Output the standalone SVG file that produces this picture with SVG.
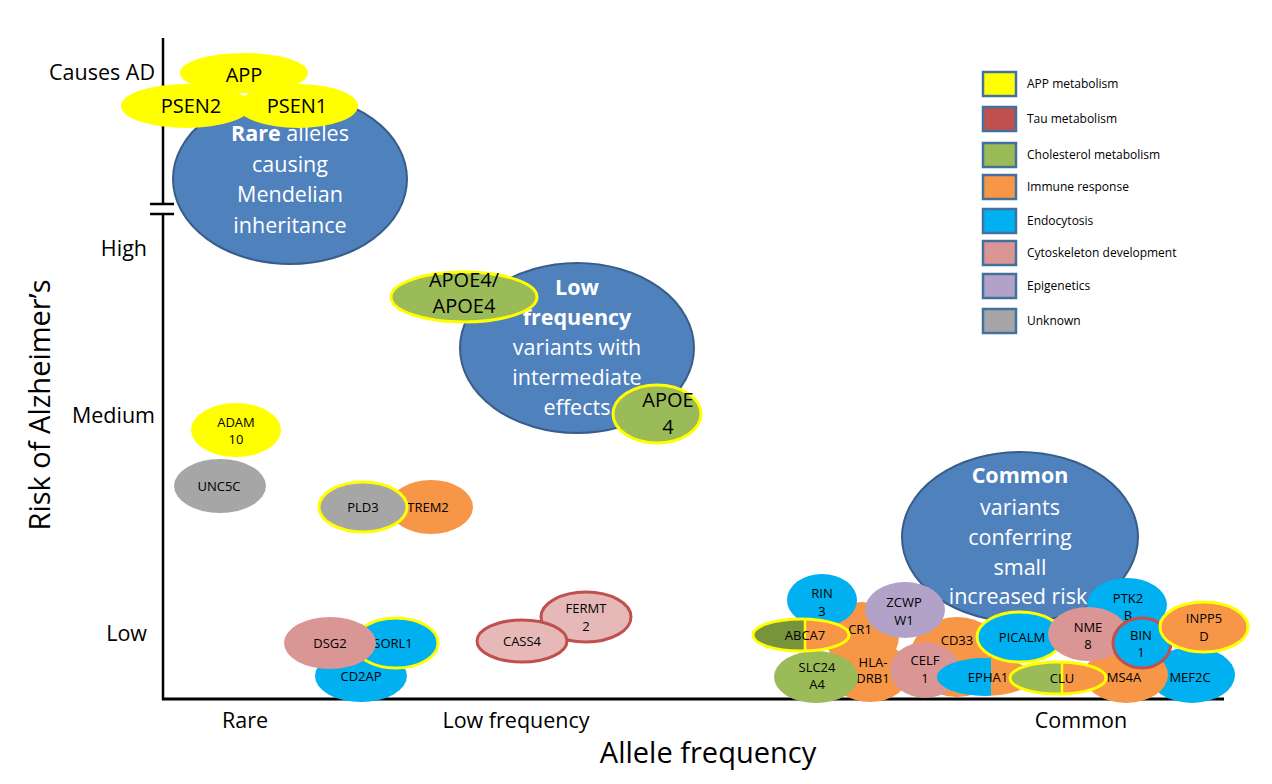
<svg xmlns="http://www.w3.org/2000/svg" width="1272" height="784" viewBox="0 0 1272 784">
<style>
text{font-family:"Open Sans","Noto Sans",sans-serif;fill:#000;text-anchor:middle}
.big{fill:#4F81BD;stroke:#385D8A;stroke-width:2}
.bt{fill:#fff;font-size:21.5px}
.lbl{font-size:21.5px}
.ax{font-size:29px}
.s{font-size:13px}
.m{font-size:20px}
.yel{fill:#FFFF00}
.grn{fill:#9BBB59}
.org{fill:#F79646}
.blu{fill:#00B0F0}
.pnk{fill:#D99694}
.pur{fill:#B3A2C7}
.gry{fill:#A6A6A6}
.yo{stroke:#FFFF00;stroke-width:3}
.ro{stroke:#C0504D;stroke-width:3}
.lg rect{stroke:#41719C;stroke-width:2.5}
.lg text{font-size:12px;text-anchor:start}
</style>
<defs>
<clipPath id="cABCL"><rect x="700" y="600" width="105" height="60"/></clipPath>
<clipPath id="cABCR"><rect x="805" y="600" width="60" height="60"/></clipPath>
<clipPath id="cEPL"><rect x="930" y="650" width="61" height="60"/></clipPath>
<clipPath id="cEPR"><rect x="991" y="650" width="60" height="60"/></clipPath>
<clipPath id="cCLL"><rect x="1000" y="655" width="62" height="50"/></clipPath>
<clipPath id="cCLR"><rect x="1062" y="655" width="60" height="50"/></clipPath>
</defs>
<rect width="1272" height="784" fill="#fff"/>

<g id="axes" stroke="#000" fill="none">
<line x1="163" y1="38" x2="163" y2="204" stroke-width="2.5"/>
<line x1="163" y1="214" x2="163" y2="700" stroke-width="2.5"/>
<line x1="150" y1="204" x2="174" y2="204" stroke-width="2.5"/>
<line x1="150" y1="214" x2="174" y2="214" stroke-width="2.5"/>
<line x1="162" y1="699" x2="1224" y2="699" stroke-width="3"/>
</g>
<g id="axis-labels">
<text class="lbl" x="155" y="80" style="text-anchor:end">Causes AD</text>
<text class="lbl" x="147" y="256" style="text-anchor:end">High</text>
<text class="lbl" x="155" y="423" style="text-anchor:end">Medium</text>
<text class="lbl" x="147" y="641" style="text-anchor:end">Low</text>
<text class="lbl" x="245" y="728">Rare</text>
<text class="lbl" x="516" y="728">Low frequency</text>
<text class="lbl" x="1081" y="728">Common</text>
<text class="ax" x="708" y="763">Allele frequency</text>
<text class="ax" transform="translate(50,405) rotate(-90)">Risk of Alzheimer’s</text>
</g>

<g id="rare-group">
<ellipse class="big" cx="290" cy="179" rx="117" ry="85"/>
<text class="bt" x="290" y="141"><tspan font-weight="bold">Rare</tspan> alleles</text>
<text class="bt" x="290" y="172">causing</text>
<text class="bt" x="290" y="202">Mendelian</text>
<text class="bt" x="290" y="233">inheritance</text>
</g>
<g id="APP"><ellipse class="yel" cx="244" cy="73" rx="64" ry="20"/><text class="m" x="244" y="82">APP</text></g>
<g id="PSEN1"><ellipse class="yel" cx="298" cy="106" rx="60" ry="22"/><text class="m" x="297" y="113">PSEN1</text></g>
<g id="PSEN2"><ellipse class="yel" cx="186" cy="106" rx="65" ry="22"/><text class="m" x="191" y="113">PSEN2</text></g>

<g id="lowfreq-group">
<ellipse class="big" cx="577" cy="348" rx="117" ry="85"/>
<text class="bt" x="577" y="295" font-weight="bold">Low</text>
<text class="bt" x="577" y="325" font-weight="bold">frequency</text>
<text class="bt" x="577" y="355">variants with</text>
<text class="bt" x="577" y="385">intermediate</text>
<text class="bt" x="577" y="415">effects</text>
</g>
<g id="APOE4-APOE4"><ellipse class="grn yo" cx="464" cy="297" rx="73" ry="25"/><text class="m" x="464" y="287">APOE4/</text><text class="m" x="464" y="313">APOE4</text></g>
<g id="APOE4"><ellipse class="grn yo" cx="657" cy="414" rx="44" ry="29"/><text class="m" x="668" y="407">APOE</text><text class="m" x="668" y="434">4</text></g>

<g id="ADAM10"><ellipse class="yel" cx="236" cy="430" rx="45" ry="27"/><text class="s" x="236" y="427">ADAM</text><text class="s" x="236" y="444">10</text></g>
<g id="UNC5C"><ellipse class="gry" cx="220" cy="486" rx="46" ry="27"/><text class="s" x="219" y="491">UNC5C</text></g>
<g id="TREM2"><ellipse class="org" cx="431" cy="507" rx="42" ry="27"/><text class="s" x="428" y="512">TREM2</text></g>
<g id="PLD3"><ellipse class="gry yo" cx="363" cy="507" rx="44" ry="25"/><text class="s" x="363" y="512">PLD3</text></g>

<g id="CD2AP"><ellipse class="blu" cx="361" cy="676" rx="46" ry="26"/><text class="s" x="361" y="681">CD2AP</text></g>
<g id="SORL1"><ellipse class="blu yo" cx="396" cy="643" rx="42" ry="25"/><text class="s" x="393" y="648">SORL1</text></g>
<g id="DSG2"><ellipse class="pnk" cx="330" cy="643" rx="46" ry="26"/><text class="s" x="330" y="648">DSG2</text></g>
<g id="FERMT2"><ellipse fill="#E6B9B8" stroke="#C0504D" stroke-width="3" cx="586" cy="617" rx="45" ry="25"/><text class="s" x="586" y="613">FERMT</text><text class="s" x="586" y="631">2</text></g>
<g id="CASS4"><ellipse fill="#E6B9B8" stroke="#C0504D" stroke-width="3" cx="522" cy="641" rx="45" ry="21"/><text class="s" x="522" y="646">CASS4</text></g>

<g id="common-group">
<ellipse class="big" cx="1020" cy="537" rx="118" ry="85"/>
<text class="bt" x="1020" y="483" font-weight="bold">Common</text>
<text class="bt" x="1020" y="515">variants</text>
<text class="bt" x="1020" y="545">conferring</text>
<text class="bt" x="1020" y="575">small</text>
<text class="bt" x="1018" y="604">increased risk</text>
</g>
<g id="CD33"><ellipse class="org" cx="957" cy="657" rx="47" ry="40"/><text class="s" x="957" y="645">CD33</text></g>
<g id="CR1"><ellipse class="org" cx="862" cy="636" rx="37" ry="34"/><text class="s" x="860" y="634">CR1</text></g>
<g id="HLA-DRB1"><ellipse class="org" cx="870" cy="672" rx="40" ry="30"/><text class="s" x="873" y="667">HLA-</text><text class="s" x="873" y="683">DRB1</text></g>
<g id="RIN3"><ellipse class="blu" cx="822" cy="600" rx="35" ry="26"/><text class="s" x="822" y="598">RIN</text><text class="s" x="822" y="616">3</text></g>
<g id="ZCWPW1"><ellipse class="pur" cx="905" cy="610" rx="40" ry="28"/><text class="s" x="904" y="607">ZCWP</text><text class="s" x="904" y="625">W1</text></g>
<g id="SLC24A4"><ellipse class="grn" cx="816" cy="677" rx="42" ry="26"/><text class="s" x="817" y="672">SLC24</text><text class="s" x="817" y="689">A4</text></g>
<g id="ABCA7">
<ellipse fill="#77933C" clip-path="url(#cABCL)" cx="801" cy="635" rx="48" ry="16"/>
<ellipse class="org" clip-path="url(#cABCR)" cx="801" cy="635" rx="48" ry="16"/>
<ellipse fill="none" class="yo" cx="801" cy="635" rx="48" ry="16"/>
<line x1="805" y1="619" x2="805" y2="651" stroke="#FFFF00" stroke-width="2.5"/>
<text class="s" x="805" y="640">ABCA7</text></g>
<g id="CELF1"><ellipse class="pnk" cx="925" cy="670" rx="35" ry="28"/><text class="s" x="925" y="665">CELF</text><text class="s" x="925" y="683">1</text></g>
<g id="EPHA1">
<ellipse class="blu" clip-path="url(#cEPL)" cx="985" cy="677" rx="48" ry="19"/>
<ellipse class="org" clip-path="url(#cEPR)" cx="985" cy="677" rx="48" ry="19"/>
<text class="s" x="988" y="682">EPHA1</text></g>
<g id="PICALM"><ellipse class="blu yo" cx="1020" cy="637" rx="43" ry="25"/><text class="s" x="1022" y="642">PICALM</text></g>
<g id="MEF2C"><ellipse class="blu" cx="1192" cy="675" rx="43" ry="28"/><text class="s" x="1190" y="682">MEF2C</text></g>
<g id="MS4A"><ellipse class="org" cx="1126" cy="675" rx="42" ry="28"/><text class="s" x="1124" y="682">MS4A</text></g>
<g id="PTK2B"><ellipse class="blu" cx="1127" cy="605" rx="40" ry="27"/><text class="s" x="1128" y="603">PTK2</text><text class="s" x="1128" y="620">B</text></g>
<g id="NME8"><ellipse class="pnk" cx="1088" cy="634" rx="40" ry="27"/><text class="s" x="1088" y="632">NME</text><text class="s" x="1088" y="649">8</text></g>
<g id="CLU">
<ellipse class="grn" clip-path="url(#cCLL)" cx="1058" cy="678" rx="48" ry="16"/>
<ellipse class="org" clip-path="url(#cCLR)" cx="1058" cy="678" rx="48" ry="16"/>
<ellipse fill="none" class="yo" cx="1058" cy="678" rx="48" ry="16"/>
<line x1="1062" y1="662" x2="1062" y2="694" stroke="#FFFF00" stroke-width="2.5"/>
<text class="s" x="1062" y="683">CLU</text></g>
<g id="BIN1"><ellipse class="blu ro" cx="1142" cy="643" rx="29" ry="25"/><text class="s" x="1141" y="640">BIN</text><text class="s" x="1141" y="657">1</text></g>
<g id="INPP5D"><ellipse class="org yo" cx="1204" cy="627" rx="44" ry="25"/><text class="s" x="1204" y="623">INPP5</text><text class="s" x="1204" y="641">D</text></g>

<g id="legend" class="lg">
<rect x="983" y="72" width="33" height="24" fill="#FFFF00"/><text x="1027" y="88">APP metabolism</text>
<rect x="983" y="107" width="33" height="24" fill="#C0504D"/><text x="1027" y="123">Tau metabolism</text>
<rect x="983" y="143" width="33" height="24" fill="#9BBB59"/><text x="1027" y="159">Cholesterol metabolism</text>
<rect x="983" y="175" width="33" height="24" fill="#F79646"/><text x="1027" y="191">Immune response</text>
<rect x="983" y="209" width="33" height="24" fill="#00B0F0"/><text x="1027" y="225">Endocytosis</text>
<rect x="983" y="241" width="33" height="24" fill="#D99694"/><text x="1027" y="257">Cytoskeleton development</text>
<rect x="983" y="274" width="33" height="24" fill="#B3A2C7"/><text x="1027" y="290">Epigenetics</text>
<rect x="983" y="309" width="33" height="24" fill="#A6A6A6"/><text x="1027" y="325">Unknown</text>
</g>
</svg>
